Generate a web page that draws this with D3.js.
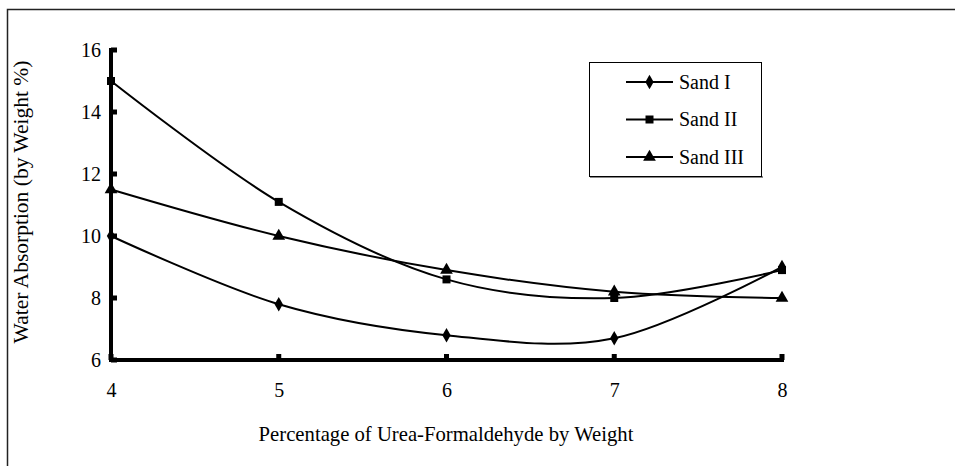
<!DOCTYPE html>
<html>
<head>
<meta charset="utf-8">
<script src="https://cdn.jsdelivr.net/npm/d3@7"></script>
<style>
	body { margin: 0; background: #fff; }
</style>
</head>
<body>
<svg id="chart" width="955" height="466"></svg>
<script>
var xValues = [4, 5, 6, 7, 8];
var seriesNames = ["Sand I", "Sand II", "Sand III"];
var sand1 = [10, 7.8, 6.8, 6.7, 9.0];
var sand2 = [15, 11.1, 8.6, 8.0, 8.9];
var sand3 = [11.5, 10, 8.9, 8.2, 8.0];
var yTicks = [6, 8, 10, 12, 14, 16];
var markerTypes = [d3.symbolDiamond, d3.symbolSquare, d3.symbolTriangle];
var markerSizes = [60, 64, 70];

var FONT = "'Liberation Serif', 'Times New Roman', serif";
var svg = d3.select("#chart");

// outer frame (runs past the right and bottom edge)
svg.append("rect")
	.attr("x", 7.5).attr("y", 9.5)
	.attr("width", 1000).attr("height", 1000)
	.attr("fill", "none").attr("stroke", "#222").attr("stroke-width", 1.5);

var x = d3.scaleLinear().domain([4, 8]).range([111, 782]);
var y = d3.scaleLinear().domain([6, 16]).range([360, 50]);

// axes
var yAxis = svg.append("g").attr("transform", "translate(111,0)")
	.call(d3.axisLeft(y).tickValues(yTicks).tickFormat(d3.format("d")).tickSize(0).tickPadding(10));
var xAxis = svg.append("g").attr("transform", "translate(0,360)")
	.call(d3.axisBottom(x).tickValues(xValues).tickFormat(d3.format("d")).tickSize(0).tickPadding(23));
[yAxis, xAxis].forEach(function (a) {
	a.select(".domain").remove();
	a.attr("font-family", null).attr("font-size", null);
	a.selectAll("text").style("font-size", "20px").style("font-family", FONT).attr("fill", "#000");
});

svg.append("line").attr("x1", 111).attr("x2", 111).attr("y1", 48).attr("y2", 362)
	.attr("stroke", "#000").attr("stroke-width", 4);
svg.append("line").attr("x1", 109).attr("x2", 784).attr("y1", 360).attr("y2", 360)
	.attr("stroke", "#000").attr("stroke-width", 4);

svg.selectAll(".ytick").data(yTicks).enter().append("rect")
	.attr("x", 111).attr("y", function (d) { return y(d) - 2.5; })
	.attr("width", 6).attr("height", 5).attr("fill", "#000");
svg.selectAll(".xtick").data(xValues).enter().append("rect")
	.attr("x", function (d) { return x(d) - 2.5; }).attr("y", 354)
	.attr("width", 5).attr("height", 6).attr("fill", "#000");

// axis titles
svg.append("text")
	.attr("transform", "translate(28,202) rotate(-90)")
	.attr("text-anchor", "middle")
	.style("font-size", "21.5px").style("font-family", FONT)
	.text("Water Absorption (by Weight %)");
svg.append("text")
	.attr("x", 446).attr("y", 441)
	.attr("text-anchor", "middle")
	.style("font-size", "20.7px").style("font-family", FONT)
	.text("Percentage of Urea-Formaldehyde by Weight");

// series
var allSeries = [sand1, sand2, sand3];
var line = d3.line()
	.x(function (d, i) { return x(xValues[i]); })
	.y(function (d) { return y(d); })
	.curve(d3.curveCatmullRom.alpha(0));

allSeries.forEach(function (vals, s) {
	svg.append("path").attr("d", line(vals))
		.attr("fill", "none").attr("stroke", "#000").attr("stroke-width", 2);
	svg.selectAll(".m" + s).data(vals).enter().append("path")
		.attr("transform", function (d, i) { return "translate(" + x(xValues[i]) + "," + y(d) + ")"; })
		.attr("d", d3.symbol().type(markerTypes[s]).size(markerSizes[s]))
		.attr("fill", "#000");
});

// legend
var lg = svg.append("g");
lg.append("line").attr("x1", 590).attr("x2", 763).attr("y1", 177).attr("y2", 177)
	.attr("stroke", "#888").attr("stroke-width", 2);
lg.append("rect").attr("x", 589.5).attr("y", 62.5).attr("width", 172).attr("height", 114)
	.attr("fill", "#fff").attr("stroke", "#000").attr("stroke-width", 1);
seriesNames.forEach(function (name, i) {
	var ly = 82 + i * 37.5;
	lg.append("line").attr("x1", 626).attr("x2", 673).attr("y1", ly).attr("y2", ly)
		.attr("stroke", "#000").attr("stroke-width", 2);
	lg.append("path").attr("transform", "translate(649.5," + ly + ")")
		.attr("d", d3.symbol().type(markerTypes[i]).size(markerSizes[i])).attr("fill", "#000");
	lg.append("text").attr("x", 679).attr("y", ly + 6.5)
		.style("font-size", "20px").style("font-family", FONT).text(name);
});
</script>
</body>
</html>
